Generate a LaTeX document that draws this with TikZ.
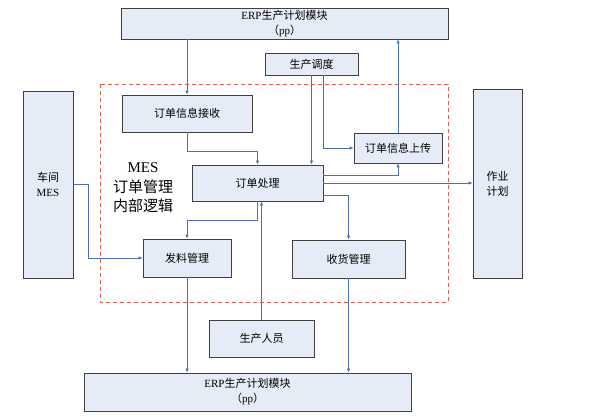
\documentclass[tikz,border=0pt]{standalone}
\usepackage{fontspec}
\setmainfont{Liberation Serif}
\newfontfamily\cjk{Noto Sans CJK SC}
\usetikzlibrary{arrows.meta}
\newcommand{\zh}[1]{{\cjk #1}}
\definecolor{boxfill}{RGB}{230,236,247}
\definecolor{boxline}{RGB}{64,64,64}
\definecolor{arrowblue}{RGB}{79,112,176}
\definecolor{framered}{RGB}{226,92,78}
\tikzset{
  box/.style={draw=boxline, fill=boxfill, line width=0.8pt, inner sep=0pt, align=center,
    font=\fontsize{11}{15}\selectfont},
  arr/.style={draw=arrowblue, line width=0.6pt, -{Latex[length=4pt,width=3.5pt]}},
}

\begin{document}
\begin{tikzpicture}[x=1pt,y=-1pt]
        \useasboundingbox (0,0) rectangle (599,417);
        % frame round the MES part
        \draw[framered, line width=0.9pt, dash pattern=on 4pt off 3pt] (100,84) rectangle (448,302);
        \node[font=\fontsize{15}{19.5}\selectfont, align=center] (title) at (143,188) {MES\\\zh{订单管理}\\\zh{内部逻辑}};
        \node[box, minimum width=327, minimum height=31] (erptop) at (284.5,23.5) {ERP\zh{生产计划模块}\\\zh{（}pp\zh{）}};
        \node[box, minimum width=93, minimum height=22] (sched) at (311.5,64) {\zh{生产调度}};
        \node[box, minimum width=50, minimum height=187] (shop) at (48,184.5) {\zh{车间}\\MES};
        \node[box, minimum width=130, minimum height=37] (recv) at (187,113.5) {\zh{订单信息接收}};
        \node[box, minimum width=131, minimum height=36] (proc) at (257.5,183) {\zh{订单处理}};
        \node[box, minimum width=88, minimum height=30] (upload) at (398,148) {\zh{订单信息上传}};
        \node[box, minimum width=49, minimum height=189] (plan) at (497.5,183.5) {\zh{作业}\\\zh{计划}};
        \node[box, minimum width=88, minimum height=38] (issue) at (187,258) {\zh{发料管理}};
        \node[box, minimum width=113, minimum height=38] (rcpt) at (348.5,259) {\zh{收货管理}};
        \node[box, minimum width=105, minimum height=37] (staff) at (261.5,338.5) {\zh{生产人员}};
        \node[box, minimum width=327, minimum height=38] (erpbot) at (247.5,392) {ERP\zh{生产计划模块}\\\zh{（}pp\zh{）}};
        % connectors
        \draw[arr] (recv.north |- erptop.south) -- (recv.north);
        \draw[arr] (recv.south) -- ++(0,19) -| (proc.north);
        \draw[arr] (sched.south) -- (sched.south |- proc.north);
        \draw[arr] ([xshift=11.5pt]sched.south) |- (upload.west);
        \draw[arr] (upload.north) -- (upload.north |- erptop.south);
        \draw[arr] ([yshift=8pt]proc.east) -| (upload.south);
        \draw[arr] (proc.east) -- (proc.east -| plan.west);
        \draw[arr] ([yshift=-12pt]proc.east) -| (rcpt.north);
        \draw[arr] (proc.south) -- ++(0,19) -| (issue.north);
        \draw[arr] (staff.north) -- (staff.north |- proc.south);
        \draw[arr] (shop.east) -- ++(15,0) |- (issue.west);
        \draw[arr] (issue.south) -- (issue.south |- erpbot.north);
        \draw[arr] (rcpt.south) -- (rcpt.south |- erpbot.north);
    \end{tikzpicture}
\end{document}
